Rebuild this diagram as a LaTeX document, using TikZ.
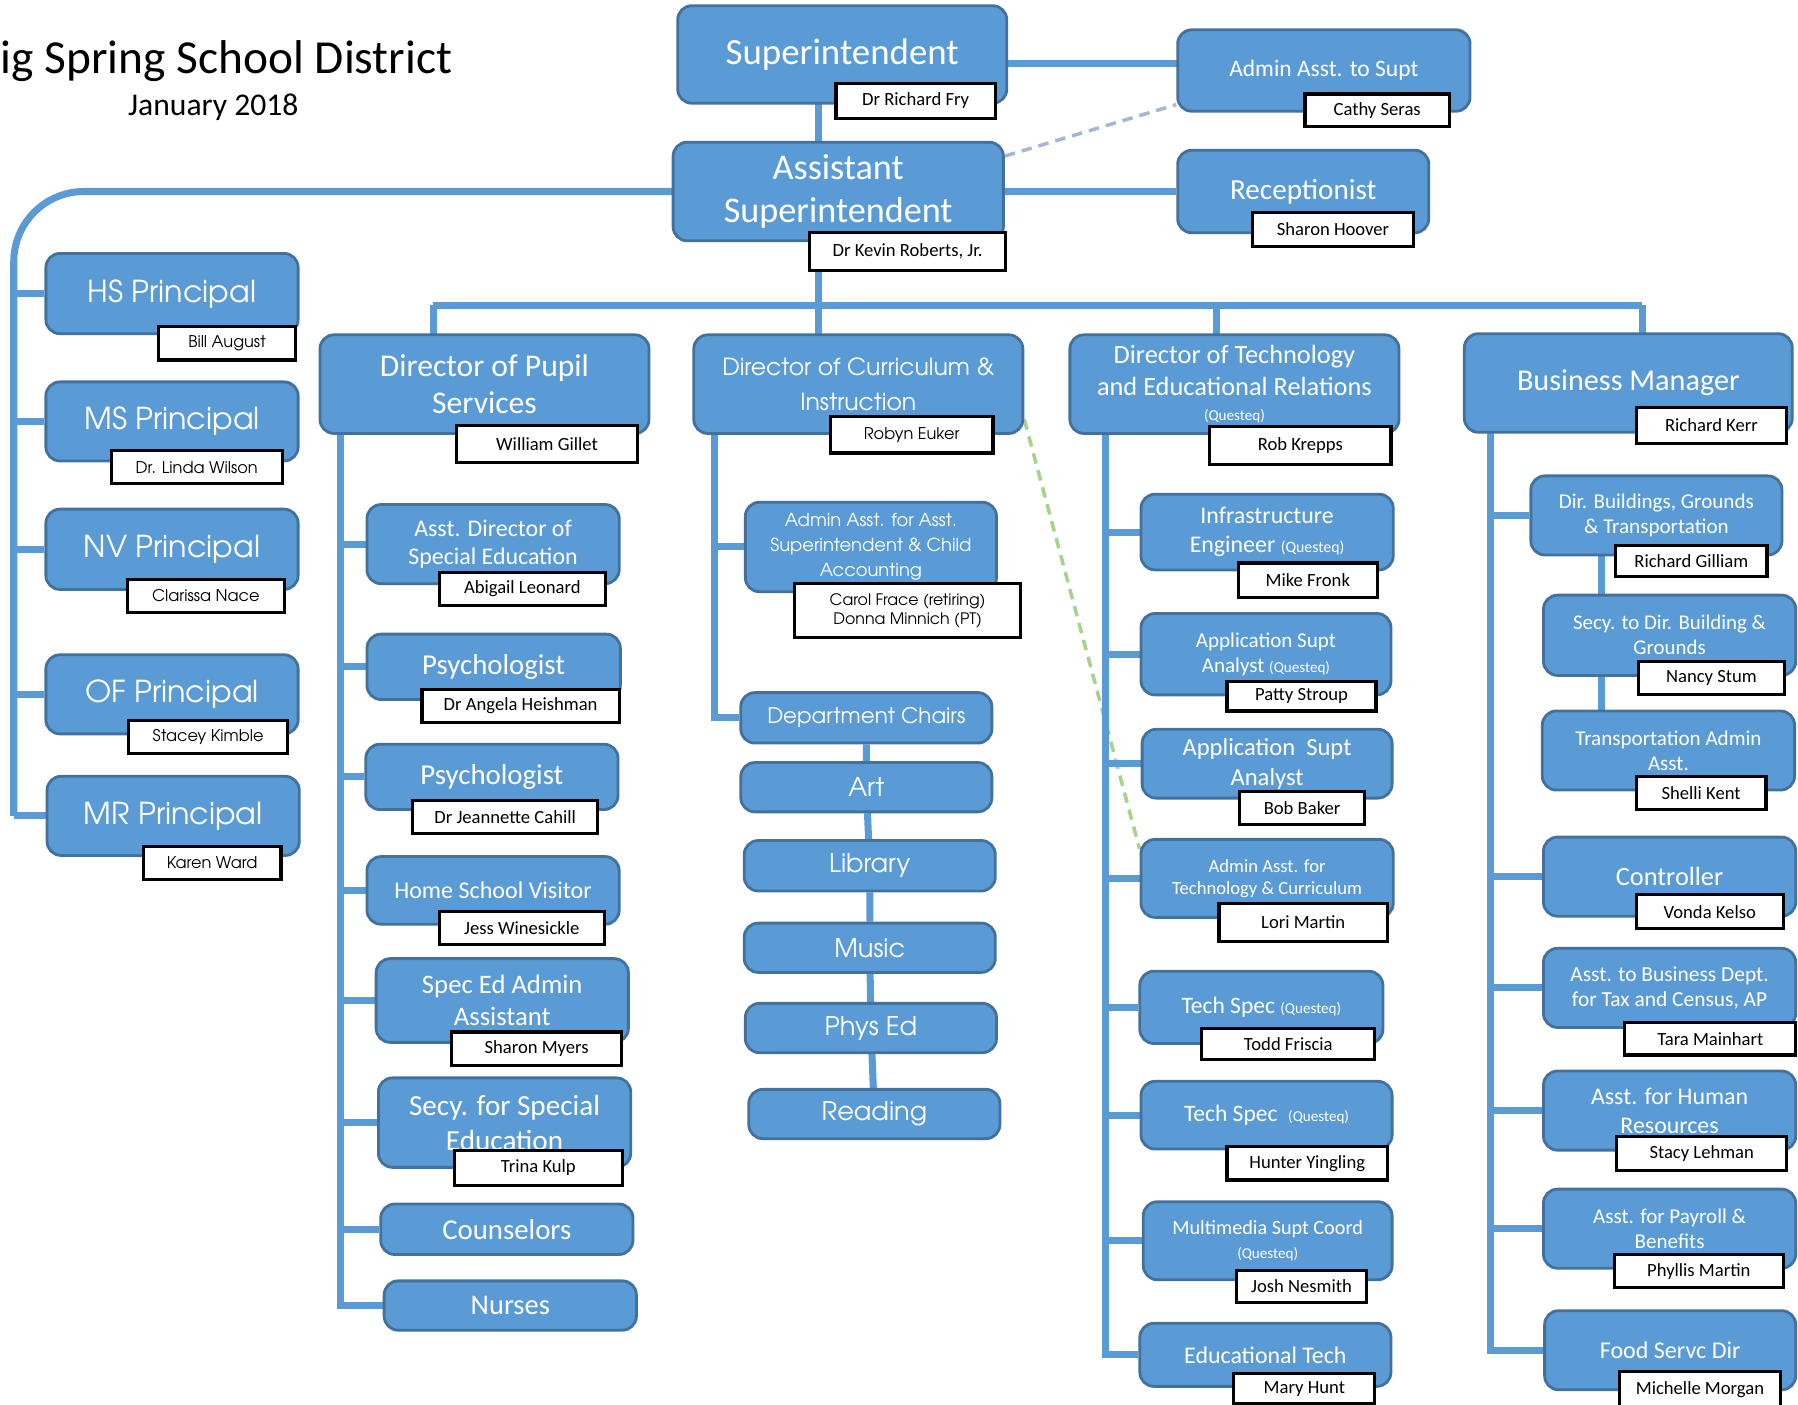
\documentclass[tikz,border=0pt]{standalone}
\usepackage{fontspec}
\setmainfont{Carlito}
\newfontfamily\gothic{texgyreadventor-regular.otf}
\usetikzlibrary{backgrounds}
\definecolor{boxblue}{RGB}{91,155,213}
\definecolor{boxedge}{RGB}{65,113,156}
\definecolor{dashgray}{RGB}{166,182,206}
\definecolor{dashgreen}{RGB}{169,209,142}
\newcommand\fsz[1]{\fontsize{#1}{\dimexpr #1*6/5\relax}\selectfont}
\tikzset{orgbox/.style={draw=boxedge, fill=boxblue, line width=0.8pt, rounded corners=4pt, inner sep=0pt, text=white, align=center},
         namebox/.style={draw=black, fill=white, line width=0.9pt, inner sep=0pt, align=center, font=\fsz{5.3pt}},
         gothicname/.style={namebox, font=\gothic\fsz{4.6pt}},
         link/.style={draw=boxblue, line width=2pt},
         span/.style n args={4}{minimum width={(#3-#1)*0.011467cm}, minimum height={(#4-#2)*0.011467cm}, at={({(#1+#3)/2},{(#2+#4)/2})}}
}

\begin{document}
\begin{tikzpicture}[x=0.011467cm, y=-0.011467cm]
        \useasboundingbox (0,0) rectangle (1568,1225);
        \node [anchor=base west, inner sep=0pt, font=\fsz{13.5pt}] (title) at (0,64) {ig Spring School District};
        \node [anchor=base, inner sep=0pt, font=\fsz{9pt}] (titledate) at (186,101) {January 2018};

        % top
        \node [orgbox, font=\fsz{10.5pt}, span={591}{5}{878}{90}] (supt) {Superintendent};
        \node [namebox, span={729}{73}{868}{103}] (suptname) {Dr Richard Fry};
        \node [orgbox, font=\fsz{6.7pt}, span={1027}{26}{1282}{97}] (suptadmin) {Admin Asst. to Supt};
        \node [namebox, span={1138}{82}{1264}{110}] (suptadminname) {Cathy Seras};
        \node [orgbox, font=\fsz{10.3pt}, span={587}{124}{875}{210}] (asstsup) {Assistant\\Superintendent};
        \node [namebox, span={706}{203}{877}{236}] (asstsupname) {Dr Kevin Roberts, Jr.};
        \node [orgbox, font=\fsz{8.3pt}, span={1027}{131}{1246}{203}] (reception) {Receptionist};
        \node [namebox, span={1092}{185}{1233}{215}] (receptionname) {Sharon Hoover};

        % principals
        \node [orgbox, font=\gothic\fsz{8.6pt}, span={40}{221}{260}{291}] (hs) {HS Principal};
        \node [gothicname, span={138}{285}{258}{314}] (hsname) {Bill August};
        \node [orgbox, font=\gothic\fsz{8.6pt}, span={40}{333}{260}{402}] (ms) {MS Principal};
        \node [gothicname, span={97}{393}{246}{422}] (msname) {Dr. Linda Wilson};
        \node [orgbox, font=\gothic\fsz{8.6pt}, span={40}{444}{260}{514}] (nv) {NV Principal};
        \node [gothicname, span={111}{505}{248}{534}] (nvname) {Clarissa Nace};
        \node [orgbox, font=\gothic\fsz{8.6pt}, span={40}{571}{260}{640}] (of) {OF Principal};
        \node [gothicname, span={112}{628}{251}{657}] (ofname) {Stacey Kimble};
        \node [orgbox, font=\gothic\fsz{8.6pt}, span={41}{677}{261}{746}] (mr) {MR Principal};
        \node [gothicname, span={125}{738}{245}{767}] (mrname) {Karen Ward};

        % pupil services
        \node [orgbox, font=\fsz{9pt}, span={279}{292}{566}{378}] (pupil) {Director of Pupil\\Services};
        \node [namebox, span={398}{371}{556}{403}] (pupilname) {William Gillet};
        \node [orgbox, font=\fsz{6.8pt}, span={320}{440}{540}{509}] (asped) {Asst. Director of\\Special Education};
        \node [namebox, span={383}{499}{528}{528}] (aspedname) {Abigail Leonard};
        \node [orgbox, font=\fsz{8.2pt}, span={320}{553}{541}{610}] (psychone) {Psychologist};
        \node [namebox, span={368}{601}{540}{630}] (psychonename) {Dr Angela Heishman};
        \node [orgbox, font=\fsz{8.2pt}, span={319}{649}{539}{706}] (psychtwo) {Psychologist};
        \node [namebox, span={360}{698}{521}{727}] (psychtwoname) {Dr Jeannette Cahill};
        \node [orgbox, font=\fsz{6.85pt}, span={320}{747}{540}{806}] (homevisit) {Home School Visitor};
        \node [namebox, span={383}{795}{527}{824}] (homevisitname) {Jess Winesickle};
        \node [orgbox, font=\fsz{7.6pt}, span={328}{836}{548}{909}] (spedadmin) {Spec Ed Admin\\Assistant};
        \node [namebox, span={394}{900}{542}{929}] (spedadminname) {Sharon Myers};
        \node [orgbox, font=\fsz{8.3pt}, span={330}{940}{550}{1018}] (spedsecy) {Secy. for Special\\Education};
        \node [namebox, span={396}{1003}{543}{1034}] (spedsecyname) {Trina Kulp};
        \node [orgbox, font=\fsz{8.2pt}, span={332}{1050}{552}{1094}] (counsel) {Counselors};
        \node [orgbox, font=\fsz{8.1pt}, span={335}{1117}{555}{1160}] (nurses) {Nurses};

        % curriculum
        \node [orgbox, font=\gothic\fsz{6.7pt}, span={605}{292}{892}{378}] (dircurr) {Director of Curriculum \&\\[2pt]Instruction};
        \node [gothicname, span={724}{363}{866}{395}] (dircurrname) {Robyn Euker};
        \node [orgbox, font=\gothic\fsz{5.1pt}, span={650}{438}{869}{516}] (adminacc) {Admin Asst. for Asst.\\[1pt]Superintendent \& Child\\[1pt]Accounting};
        \node [gothicname, font=\gothic\fsz{4.5pt}, span={693}{509}{890}{556}] (adminaccname) {Carol Frace (retiring)\\Donna Minnich (PT)};
        \node [orgbox, font=\gothic\fsz{6.1pt}, span={646}{604}{865}{648}] (chairs) {Department Chairs};
        \node [orgbox, font=\gothic\fsz{7.3pt}, span={646}{665}{865}{708}] (art) {Art};
        \node [orgbox, font=\gothic\fsz{7.3pt}, span={649}{733}{868}{777}] (library) {Library};
        \node [orgbox, font=\gothic\fsz{7.3pt}, span={649}{805}{868}{848}] (music) {Music};
        \node [orgbox, font=\gothic\fsz{7.3pt}, span={650}{875}{869}{918}] (physed) {Phys Ed};
        \node [orgbox, font=\gothic\fsz{7.3pt}, span={653}{950}{872}{993}] (reading) {Reading};

        % technology
        \node [orgbox, font=\fsz{7.5pt}, span={933}{292}{1220}{378}] (dirtech) {Director of Technology\\and Educational Relations\\[-2pt]{\fsz{4.3pt}(Questeq)}};
        \node [namebox, span={1055}{372}{1213}{405}] (dirtechname) {Rob Krepps};
        \node [orgbox, font=\fsz{6.8pt}, span={995}{431}{1215}{497}] (infra) {Infrastructure\\Engineer {\fsz{4.5pt}(Questeq)}};
        \node [namebox, span={1080}{491}{1201}{521}] (infraname) {Mike Fronk};
        \node [orgbox, font=\fsz{6pt}, span={995}{535}{1213}{606}] (appone) {Application Supt\\Analyst {\fsz{4.3pt}(Questeq)}};
        \node [namebox, span={1070}{594}{1200}{620}] (apponename) {Patty Stroup};
        \node [orgbox, font=\fsz{7pt}, span={996}{636}{1214}{696}] (apptwo) {Application\ \ Supt\\Analyst};
        \node [namebox, span={1081}{690}{1190}{719}] (apptwoname) {Bob Baker};
        \node [orgbox, font=\fsz{5.3pt}, span={995}{732}{1215}{800}] (admintc) {Admin Asst. for\\Technology \& Curriculum};
        \node [namebox, span={1063}{788}{1210}{821}] (admintcname) {Lori Martin};
        \node [orgbox, font=\fsz{6.7pt}, span={994}{847}{1206}{910}] (techone) {Tech Spec {\fsz{4.3pt}(Questeq)}};
        \node [namebox, span={1048}{897}{1199}{924}] (techonename) {Todd Friscia};
        \node [orgbox, font=\fsz{6.7pt}, span={995}{943}{1214}{1002}] (techtwo) {Tech Spec\ \ {\fsz{4.3pt}(Questeq)}};
        \node [namebox, span={1070}{1000}{1210}{1029}] (techtwoname) {Hunter Yingling};
        \node [orgbox, font=\fsz{5.75pt}, span={997}{1048}{1214}{1116}] (multi) {Multimedia Supt Coord\\{\fsz{4.3pt}(Questeq)}};
        \node [namebox, span={1078}{1108}{1192}{1136}] (multiname) {Josh Nesmith};
        \node [orgbox, font=\fsz{6.8pt}, span={994}{1154}{1213}{1209}] (edtech) {Educational Tech};
        \node [namebox, span={1076}{1198}{1199}{1224}] (edtechname) {Mary Hunt};

        % business
        \node [orgbox, font=\fsz{8.6pt}, span={1277}{291}{1563}{377}] (busmgr) {Business Manager};
        \node [namebox, span={1427}{355}{1558}{387}] (busmgrname) {Richard Kerr};
        \node [orgbox, font=\fsz{6pt}, span={1335}{415}{1554}{484}] (dirbldg) {Dir. Buildings, Grounds\\\& Transportation};
        \node [namebox, span={1409}{476}{1541}{503}] (dirbldgname) {Richard Gilliam};
        \node [orgbox, font=\fsz{5.95pt}, span={1346}{519}{1566}{589}] (bldgsecy) {Secy. to Dir. Building \&\\Grounds};
        \node [namebox, span={1429}{577}{1556}{606}] (bldgsecyname) {Nancy Stum};
        \node [orgbox, font=\fsz{6pt}, span={1345}{620}{1565}{689}] (transp) {Transportation Admin\\Asst.};
        \node [namebox, span={1427}{677}{1540}{706}] (transpname) {Shelli Kent};
        \node [orgbox, font=\fsz{7.5pt}, span={1346}{730}{1566}{799}] (controller) {Controller};
        \node [namebox, span={1427}{780}{1555}{810}] (controllername) {Vonda Kelso};
        \node [orgbox, font=\fsz{6.1pt}, span={1346}{827}{1566}{896}] (taxasst) {Asst. to Business Dept.\\for Tax and Census, AP};
        \node [namebox, span={1417}{892}{1566}{920}] (taxasstname) {Tara Mainhart};
        \node [orgbox, font=\fsz{6.8pt}, span={1346}{934}{1566}{1003}] (hrasst) {Asst. for Human\\Resources};
        \node [namebox, span={1410}{991}{1558}{1021}] (hrasstname) {Stacy Lehman};
        \node [orgbox, font=\fsz{6pt}, span={1346}{1037}{1566}{1106}] (payroll) {Asst. for Payroll \&\\Benefits};
        \node [namebox, span={1408}{1094}{1555}{1123}] (payrollname) {Phyllis Martin};
        \node [orgbox, font=\fsz{6.85pt}, span={1347}{1143}{1566}{1212}] (food) {Food Servc Dir};
        \node [namebox, span={1412}{1196}{1553}{1228}] (foodname) {Michelle Morgan};

        \coordinate (toprow) at (0,55);
        \coordinate (spine) at (714,266);
        \coordinate (busL) at (378,266);
        \coordinate (busR) at (1432,266);
        \coordinate (techdrop) at (1061,266);
        \coordinate (prinline) at (12,0);
        \coordinate (pupilline) at (297,0);
        \coordinate (curline) at (623,0);
        \coordinate (techline) at (964,0);
        \coordinate (busline) at (1300,0);
        \coordinate (bldgline) at (1397,0);

        \begin{scope}[on background layer]
        \draw [dashgray, line width=1pt, dash pattern=on 3pt off 2pt] (asstsup.12) -- (suptadmin.193);
        \draw [dashgreen, line width=1pt, dash pattern=on 3pt off 2pt] (dircurr.-12) -- (admintc.167);
        \draw [link] (supt.center -| spine) -- (dircurr.center -| spine);
        \draw [link] (supt.center |- toprow) -- (suptadmin.center |- toprow);
        \draw [link] (asstsup) -- (reception);
        \draw [link, rounded corners=20pt] (asstsup.center) -- (asstsup.center -| prinline) -- (prinline |- mr.west);
        \foreach \p in {hs, ms, nv, of, mr}
          \draw [link] (prinline |- \p.west) -- (\p.west);
        \draw [link] (busL) -- (busR);
        \draw [link] (busL) -- (busL |- pupil.center);
        \draw [link] (techdrop) -- (techdrop |- dirtech.center);
        \draw [link] (busR) -- (busR |- busmgr.center);
        \draw [link] (pupilline |- pupil.center) -- (pupilline |- nurses.west) -- (nurses.west);
        \foreach \p in {asped, psychone, psychtwo, homevisit, spedadmin, spedsecy, counsel}
          \draw [link] (pupilline |- \p.west) -- (\p.west);
        \draw [link] (curline |- dircurr.center) -- (curline |- chairs.west) -- (chairs.west);
        \draw [link] (curline |- adminacc.west) -- (adminacc.west);
        \draw [link] (chairs) -- (art) -- (library) -- (music) -- (physed) -- (reading);
        \draw [link] (techline |- dirtech.center) -- (techline |- edtech.west) -- (edtech.west);
        \foreach \p in {infra, appone, apptwo, admintc, techone, techtwo, multi}
          \draw [link] (techline |- \p.west) -- (\p.west);
        \draw [link] (busline |- busmgr.center) -- (busline |- food.west) -- (food.west);
        \foreach \p in {dirbldg, controller, taxasst, hrasst, payroll}
          \draw [link] (busline |- \p.west) -- (\p.west);
        \draw [link] (bldgline |- dirbldg.center) -- (bldgline |- transp.center);
        \end{scope}
      \end{tikzpicture}
\end{document}
